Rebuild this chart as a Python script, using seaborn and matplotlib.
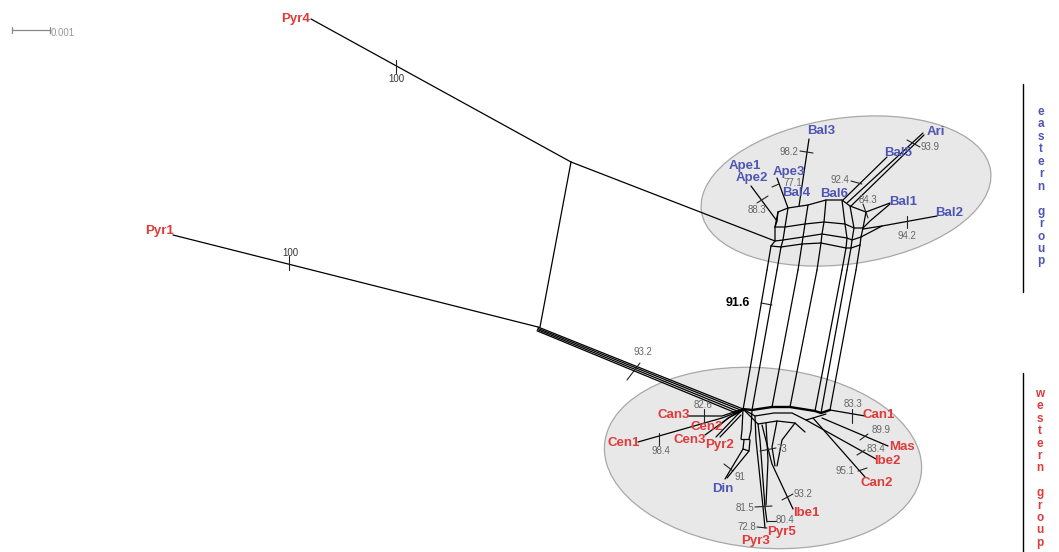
import numpy as np
import pandas as pd
import matplotlib
matplotlib.use("Agg")
import matplotlib.pyplot as plt
from matplotlib.patches import Ellipse
import seaborn as sns

# ---------------------------------------------------------------- data
# taxa of the splits network and where each name is printed
east_taxa = ["Ape1", "Ape2", "Ape3", "Bal3", "Bal4", "Bal6", "Bal5", "Ari", "Bal1", "Bal2", "Din"]
east_label_xy = [(745, 166), (752, 178), (789, 172), (821, 131), (796, 193), (834, 194),
                 (898, 153), (936, 132), (903, 202), (949, 213), (723, 489)]
west_taxa = ["Pyr4", "Pyr1", "Can3", "Cen2", "Cen1", "Cen3", "Pyr2", "Can1", "Mas", "Ibe2",
             "Can2", "Ibe1", "Pyr5", "Pyr3"]
west_label_xy = [(296, 19), (159, 231), (674, 415), (707, 427), (624, 443), (690, 440),
                 (720, 445), (879, 415), (902, 447), (887, 461), (877, 483), (806, 513),
                 (781, 532), (756, 541)]

# bootstrap support of the splits, with the bar crossing each split and the label spot
support = ["100", "100", "93.2", "91.6", "98.2", "77.1", "88.3", "92.4", "93.9", "84.3", "94.2",
           "82.6", "98.4", "91", "73", "83.3", "89.9", "83.4", "95.1", "93.2", "81.5", "80.4", "72.8"]
support_bar = [((396, 60), (396, 73)), ((289, 256), (289, 270)), ((627, 380), (640, 363)),
               ((761, 303), (772, 305)), ((800, 151), (813, 153)), ((772, 187), (779, 184)),
               ((757, 203), (768, 196)), ((851, 181), (862, 184)), ((907, 140), (920, 147)),
               ((863, 204), (868, 218)), ((907, 216), (907, 228)), ((704, 409), (704, 422)),
               ((659, 433), (659, 445)), ((724, 464), (733, 471)), ((760, 451), (776, 448)),
               ((852, 409), (852, 423)), ((860, 440), (868, 434)), ((857, 455), (865, 450)),
               ((858, 471), (867, 468)), ((782, 500), (793, 494)), ((755, 507), (772, 506)),
               ((767, 521), (776, 521)), ((757, 527), (767, 528))]
support_label_xy = [(396, 79), (290, 253), (643, 352), (738, 303), (789, 152), (793, 183),
                    (757, 210), (840, 180), (930, 147), (868, 200), (907, 236), (703, 405),
                    (661, 451), (740, 477), (782, 449), (853, 404), (881, 430), (876, 449),
                    (845, 471), (803, 494), (745, 508), (785, 520), (747, 527)]

# long outgroup branches and the box joining them
outer_edges = [
    [(311, 19), (571, 162)],
    [(173, 235), (538, 327)],
    [(571, 162), (540, 327)],
    [(571, 162), (775, 241)],
]
# parallel splits running from the Pyr1 node into the western group
bundle_start = [(538, 327), (538, 328.4), (537.5, 329.6), (537, 330.8)]
bundle_end = [(743, 409), (742, 410.6), (740, 412.2), (738, 413.8)]

# parallel splits separating eastern and western groups
rail_top = [(767, 270), (777, 270), (798, 270), (817, 270), (842, 270), (847, 270), (856, 270)]
rail_bottom = [(743, 410), (752, 410), (772, 407), (790, 407), (815, 411), (821, 413), (830, 410)]

# eastern lattice (rows of nodes, bottom to top)
east_rows = [
    [(771, 246), (781, 247), (802, 244), (821, 243), (846, 248), (851, 248), (860, 245)],
    [(775, 241), (783, 240), (803, 237), (822, 234), (847, 238), (852, 240), (861, 237)],
    [(775, 227), (785, 227), (805, 224), (824, 222), (845, 224), (854, 228), (863, 228)],
    [(778, 212), (788, 208), (808, 205), (826, 200), (842, 200), (850, 206), (866, 212)],
]
east_tips = [
    [(751, 186), (777, 221), (778, 212)],
    [(777, 221), (775, 227)],
    [(777, 178), (788, 208)],
    [(809, 139), (799, 206)],
    [(887, 157), (843, 200)],
    [(923, 133), (847, 203)],
    [(924, 135), (851, 206)],
    [(890, 203), (866, 212)],
    [(890, 204), (870, 221), (863, 228)],
    [(937, 216), (882, 226), (863, 229)],
    [(882, 226), (861, 237)],
]

# western lattice
west_rows = [
    [(743, 409), (755, 416), (774, 413), (792, 413), (806, 420), (813, 418), (826, 414)],
    [(743, 409), (758, 424), (777, 421), (795, 423), (805, 432)],
]
west_main_row = [(743, 409), (752, 410), (772, 407), (790, 407), (815, 411), (821, 413), (830, 410)]
west_tips = [
    [(688, 416), (722, 416), (743, 409)],
    [(638, 442), (722, 418), (743, 410)],
    [(720, 425), (728, 418), (743, 410)],
    [(705, 435), (730, 417), (743, 410)],
    [(716, 437), (738, 414), (743, 410)],
    [(720, 437), (741, 415)],
    [(743, 409), (742, 430), (741, 439)],
    [(752, 410), (751, 430), (749, 439)],
    [(741, 439), (749, 439)],
    [(744, 440), (743, 449), (749, 451), (750, 440)],
    [(725, 479), (743, 449)],
    [(727, 478), (749, 451)],
    [(865, 416), (830, 410)],
    [(888, 446), (822, 418)],
    [(876, 459), (806, 420)],
    [(865, 477), (813, 418)],
    [(755, 416), (756, 440), (763, 507), (765, 528)],
    [(758, 424), (760, 440), (765, 507), (767, 522)],
    [(766, 423), (768, 460), (766, 505)],
    [(793, 509), (772, 464), (762, 425)],
    [(777, 421), (772, 447), (775, 466)],
    [(795, 423), (782, 440), (777, 466)],
]

# scale bar (0.001 substitutions per site)
scale_bar = [(12, 30), (50, 30)]

EAST_C = "#4f55b3"
WEST_C = "#e03a3a"
LABEL_FONT = ["Liberation Sans", "DejaVu Sans"]

# ---------------------------------------------------------------- figure
sns.set_theme(style="white")
plt.rcParams["font.family"] = LABEL_FONT

fig = plt.figure(figsize=(10.59, 5.52), dpi=100)
ax = fig.add_axes([0, 0, 1, 1])

# group hulls
ax.add_patch(Ellipse((846, 191), 292, 146, angle=-8, facecolor="#e8e8e8",
                     edgecolor="#a8a8a8", lw=0.9, zorder=0))
ax.add_patch(Ellipse((763, 458), 318, 180, angle=5, facecolor="#e8e8e8",
                     edgecolor="#a8a8a8", lw=0.9, zorder=0))


def edge_table(paths):
    rows = []
    for i, p in enumerate(paths):
        for j, (x, y) in enumerate(p):
            rows.append({"edge": i, "order": j, "x": x, "y": y})
    return pd.DataFrame(rows)


# every network edge
paths = []
paths += outer_edges
paths += [[s, e] for s, e in zip(bundle_start, bundle_end)]
paths += [[t, b] for t, b in zip(rail_top, rail_bottom)]
paths += [[t, b] for t, b in zip(rail_top, east_rows[0])]
paths += east_rows
paths += [list(col) for col in zip(*east_rows)]
paths += east_tips
paths += west_rows
paths += west_tips
sns.lineplot(data=edge_table(paths), x="x", y="y", units="edge", estimator=None, sort=False,
             color="black", lw=0.9, ax=ax, zorder=2)

# heavy central split path in the western group
sns.lineplot(data=edge_table([west_main_row]), x="x", y="y", units="edge", estimator=None,
             sort=False, color="black", lw=1.7, ax=ax, zorder=2)

# support bars
sns.lineplot(data=edge_table([list(b) for b in support_bar]), x="x", y="y", units="edge",
             estimator=None, sort=False, color="#222222", lw=0.8, ax=ax, zorder=3)

ax.set_xlim(0, 1059)
ax.set_ylim(552, 0)
ax.axis("off")

for txt, (x, y) in zip(support, support_label_xy):
    if txt == "91.6":
        ax.text(x, y, txt, ha="center", va="center", fontsize=9, fontweight="bold",
                color="black", zorder=4)
    elif txt == "100":
        ax.text(x, y, txt, ha="center", va="center", fontsize=7, color="#333333", zorder=4)
    else:
        ax.text(x, y, txt, ha="center", va="center", fontsize=7, color="#666666", zorder=4)

for name, (x, y) in zip(east_taxa, east_label_xy):
    ax.text(x, y, name, ha="center", va="center", fontsize=9.5, fontweight="bold",
            color=EAST_C, zorder=5)
for name, (x, y) in zip(west_taxa, west_label_xy):
    ax.text(x, y, name, ha="center", va="center", fontsize=9.5, fontweight="bold",
            color=WEST_C, zorder=5)

# scale bar
sx, sy = zip(*scale_bar)
ax.plot(sx, sy, color="#888888", lw=0.9)
for x in sx:
    ax.plot([x, x], [sy[0] - 3, sy[0] + 3], color="#888888", lw=0.9)
ax.text(sx[1] + 1, sy[0] + 3, "0.001", ha="left", va="center", fontsize=7, color="#999999")

# group brackets with stacked captions
ax.plot([1023, 1023], [84, 292], color="black", lw=1.0)
ax.plot([1023, 1023], [373, 552], color="black", lw=1.0)
for k, ch in enumerate("eastern group"):
    ax.text(1041, 112 + 12.45 * k, ch, ha="center", va="center", fontsize=8.5,
            fontweight="bold", color=EAST_C)
for k, ch in enumerate("western group"):
    ax.text(1040, 394 + 12.4 * k, ch, ha="center", va="center", fontsize=8.5,
            fontweight="bold", color=WEST_C)

fig.savefig("out.png", dpi=100)
